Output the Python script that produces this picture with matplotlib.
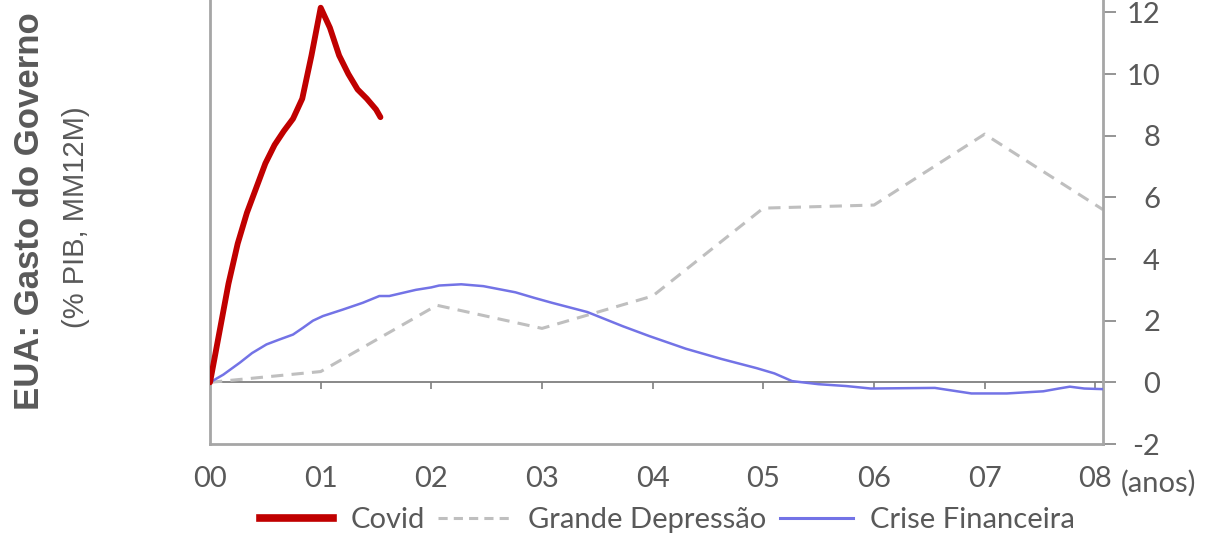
import matplotlib.pyplot as plt
from matplotlib.lines import Line2D

# Data (anos desde o início da crise)
covid_x = [i / 12 for i in range(19)] + [1.54]
covid_y = [0.0, 1.6, 3.2, 4.5, 5.5, 6.3, 7.1, 7.7, 8.15, 8.55, 9.2,
           10.6, 12.15, 11.5, 10.6, 10.0, 9.5, 9.2, 8.85, 8.6]

gd_x = [0, 1, 2.05, 3, 4, 5, 6, 7, 8.07]
gd_y = [0.0, 0.35, 2.5, 1.75, 2.8, 5.65, 5.75, 8.05, 5.6]

cf_x = [0.0, 0.12, 0.27, 0.38, 0.51, 0.62, 0.75, 0.84, 0.93, 1.02, 1.2,
        1.38, 1.53, 1.62, 1.86, 2.0, 2.07, 2.27, 2.47, 2.76, 2.93, 3.09,
        3.41, 3.73, 3.97, 4.3, 4.62, 4.94, 5.1, 5.26, 5.5, 5.75, 5.97,
        6.55, 6.88, 7.2, 7.53, 7.67, 7.77, 7.9, 8.07]
cf_y = [0.0, 0.25, 0.64, 0.95, 1.23, 1.38, 1.55, 1.77, 2.0, 2.15, 2.36,
        2.58, 2.8, 2.8, 3.0, 3.08, 3.14, 3.18, 3.12, 2.92, 2.74, 2.58,
        2.28, 1.82, 1.5, 1.09, 0.76, 0.46, 0.29, 0.04, -0.06, -0.12, -0.2,
        -0.18, -0.36, -0.36, -0.29, -0.2, -0.14, -0.2, -0.22]

years = [0, 1, 2, 3, 4, 5, 6, 7, 8]
year_labels = ['00', '01', '02', '03', '04', '05', '06', '07', '08']
yticks = [-2, 0, 2, 4, 6, 8, 10, 12]

RED = '#C00000'
GREY = '#BFBFBF'
BLUE = '#7373E6'
TEXT = '#595959'
SPINE = '#A6A6A6'
FONT = 'Lato'
FS = 21

fig = plt.figure(figsize=(12.05, 5.36), dpi=100)
ax = fig.add_axes([0.1743, 0.1716, 0.7411, 0.8284])

# zero line with the small year ticks on it
ax.axhline(0, color='#7F7F7F', lw=1.3, zorder=1)
ax.plot(years[1:], [0] * 8, ls='none', marker=3, ms=5, mew=1.2,
        color='#7F7F7F', zorder=1)

ax.plot(gd_x, gd_y, color=GREY, lw=2.2, dashes=(4, 2.7), zorder=2)
ax.plot(cf_x, cf_y, color=BLUE, lw=1.8, zorder=3)
ax.plot(covid_x, covid_y, color=RED, lw=4.2, solid_capstyle='round',
        solid_joinstyle='round', zorder=4)

ax.set_xlim(0, 8.07)
ax.set_ylim(-2, 12.4)

for side in ['left', 'right', 'bottom']:
    ax.spines[side].set_color(SPINE)
    ax.spines[side].set_linewidth(2.0)
ax.spines['top'].set_visible(False)

ax.set_xticks(years)
ax.set_xticklabels(year_labels)
ax.tick_params(axis='x', length=0, pad=16, labelsize=FS, labelcolor=TEXT)
for lbl in ax.get_xticklabels():
    lbl.set_family(FONT)

ax.yaxis.tick_right()
ax.set_yticks(yticks)
ax.set_yticklabels([str(v) for v in yticks])
ax.tick_params(axis='y', direction='out', length=9, width=1.3,
               color='#8C8C8C', pad=32, labelsize=FS, labelcolor=TEXT)
for lbl in ax.get_yticklabels():
    lbl.set_horizontalalignment('right')
    lbl.set_family(FONT)

fig.text(1121 / 1205, 0.099, '(anos)', fontsize=FS, color=TEXT,
         family=FONT, ha='left', va='center')

fig.text(30 / 1205, 0.606, 'EUA: Gasto do Governo', rotation=90,
         fontsize=25, fontweight='bold', color=TEXT,
         family='Liberation Sans', ha='center', va='center')
fig.text(76 / 1205, 0.595, '(% PIB, MM12M)', rotation=90, fontsize=21,
         color=TEXT, family='Liberation Sans', ha='center', va='center')

handles = [
    Line2D([], [], color=RED, lw=5.5),
    Line2D([], [], color=GREY, lw=2.2, dashes=(3, 2)),
    Line2D([], [], color=BLUE, lw=2.2),
]
labels = ['Covid', 'Grande Depressão', 'Crise Financeira']
fig.legend(handles, labels, loc='center', bbox_to_anchor=(0.554, 0.03),
           ncol=3, frameon=False, handlelength=2.5, handletextpad=0.6,
           columnspacing=0.45, borderpad=0,
           prop={'family': FONT, 'size': FS}, labelcolor=TEXT)

fig.savefig('out.png', dpi=100)
